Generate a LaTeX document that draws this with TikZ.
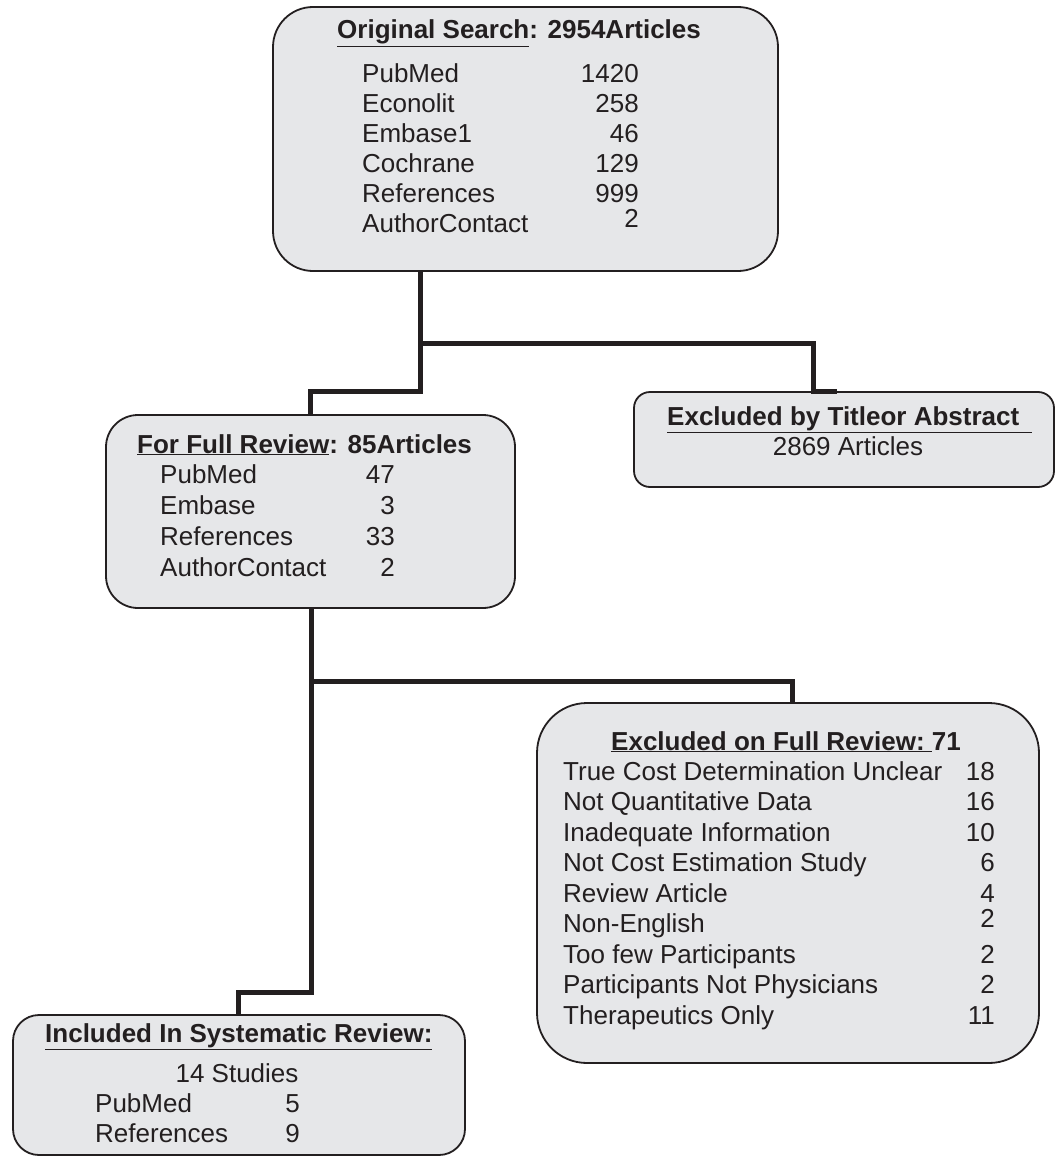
\documentclass[tikz,border=0pt]{standalone}
\usepackage{fontspec}
\setmainfont{Liberation Sans}
\definecolor{ink}{RGB}{35,31,32}
\definecolor{boxgray}{RGB}{230,231,233}
\tikzset{
  box/.style={draw=ink,fill=boxgray,line width=1.8pt,inner sep=0pt},
  link/.style={draw=ink,line width=5pt},
  txt/.style={font=\fontsize{26}{30}\selectfont,text=ink,inner sep=0pt},
  head/.style={font=\fontsize{26}{30}\selectfont\bfseries,text=ink,inner sep=0pt}
}
\begin{document}
\begin{tikzpicture}[x=1pt,y=-1pt]
\useasboundingbox (0,0) rectangle (1056,1156);
\node[box,minimum width=505,minimum height=264,rounded corners=40] (search) at (525.5,139) {};
\node[box,minimum width=409,minimum height=193,rounded corners=32] (full) at (310.5,511.5) {};
\node[box,minimum width=420,minimum height=95,rounded corners=16] (title) at (844,439.5) {};
\node[box,minimum width=502,minimum height=360,rounded corners=50] (exfull) at (788,883) {};
\node[box,minimum width=452,minimum height=140,rounded corners=26] (incl) at (239,1085) {};

\node[head,anchor=base west] (searchhead) at (337,39) {\underline{Original Search}: 2954Articles};
\foreach \lab/\v/\dy [count=\i] in {PubMed/1420/0,Econolit/258/0,Embase1/46/0,Cochrane/129/0,References/999/0,AuthorContact/2/-5}{
  \node[txt,anchor=base west] (sl\i) at (362,52+30*\i) {\lab};
  \node[txt,anchor=base east] (sn\i) at (639,52+30*\i+\dy) {\v};
}
\node[head,anchor=base west] (fullhead) at (137,453) {\underline{For Full Review}: 85Articles};
\foreach \lab/\v [count=\i] in {PubMed/47,Embase/3,References/33,AuthorContact/2}{
  \node[txt,anchor=base west] (fl\i) at (160,452+31*\i) {\lab};
  \node[txt,anchor=base east] (fn\i) at (395,452+31*\i) {\v};
}
\node[head,anchor=base west] (titlehead) at (667,425) {\underline{Excluded by Titleor Abstract\hspace{0.5em}}};
\node[txt,anchor=base] (titlenum) at (848,455) {2869 Articles};
\node[head,anchor=base west] (exhead) at (611,750) {\underline{Excluded on Full Review:\ }71};
\foreach \lab/\v/\dy [count=\i] in {True Cost Determination Unclear/18/0,Not Quantitative Data/16/0,Inadequate Information/10/0,Not Cost Estimation Study/6/0,Review Article/4/0,Non-English/2/-5,Too few Participants/2/0,Participants Not Physicians/2/0,Therapeutics Only/11/0}{
  \node[txt,anchor=base west] (el\i) at (563,749.5+30.5*\i) {\lab};
  \node[txt,anchor=base east] (en\i) at (995,749.5+30.5*\i+\dy) {\v};
}
\node[head,anchor=base west] (inclhead) at (45,1042) {\underline{Included In Systematic Review:}};
\node[txt,anchor=base] (inclnum) at (237,1082) {14 Studies};
\foreach \lab/\v [count=\i] in {PubMed/5,References/9}{
  \node[txt,anchor=base west] (il\i) at (95,1082+30*\i) {\lab};
  \node[txt,anchor=base east] (in\i) at (300,1082+30*\i) {\v};
}

\coordinate (t1) at (420,391);
\coordinate (t2) at (310,391);
\coordinate (b1) at (420,343);
\coordinate (b2) at (813,343);
\coordinate (b3) at (837,0);
\draw[link] (search.south -| t1) -- (t1) -- (t2) -- (t2 |- full.north);
\draw[link] (b1) -- (b2) -- (b2 |- title.north) -- (b3 |- title.north);
\coordinate (u1) at (311,992);
\coordinate (u2) at (238,992);
\coordinate (c1) at (311,681);
\coordinate (c2) at (792,681);
\draw[link] (full.south -| u1) -- (u1) -- (u2) -- (u2 |- incl.north);
\draw[link] (c1) -- (c2) -- (c2 |- exfull.north);
\end{tikzpicture}
\end{document}
